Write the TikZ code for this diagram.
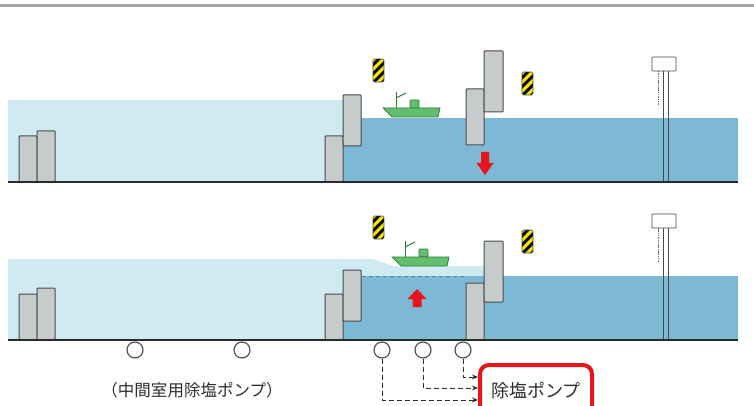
\documentclass[tikz,border=0pt]{standalone}
\usepackage{fontspec}
\newfontfamily\jpfont{Noto Sans CJK JP}
\usetikzlibrary{arrows.meta}
\definecolor{lightwater}{HTML}{CFEAF1}
\definecolor{darkwater}{HTML}{7DB8D4}
\definecolor{wallgrey}{HTML}{C6CBCB}
\definecolor{walledge}{HTML}{4A4A4A}
\definecolor{groundline}{HTML}{2B2B2B}
\definecolor{boatgreen}{HTML}{62BF6E}
\definecolor{boatedge}{HTML}{2E7A3C}
\definecolor{flowred}{HTML}{E8141B}
\definecolor{stripeyellow}{HTML}{F2E600}
\definecolor{levelline}{HTML}{4E7F99}
\definecolor{labeltext}{HTML}{2E2E2E}
\tikzset{
  wall/.style={fill=wallgrey, draw=walledge, line width=1pt, rounded corners=0.8pt},
  ground/.style={draw=groundline, line width=2.4pt},
  redarrow/.style={fill=flowred},
  pump/.style={circle, draw=walledge, fill=white, line width=1.1pt, minimum size=16pt, inner sep=0pt},
  pipe/.style={draw=groundline, line width=1pt, dash pattern=on 5pt off 3pt,
    -{Stealth[length=6pt,width=5pt]}},
  stripepost/.pic={
    \begin{scope}
      \clip[rounded corners=1.5pt] (0,0) rectangle (11,23);
      \fill[black] (0,0) rectangle (11,23);
      \foreach \k in {-1,0,...,4}
        \fill[stripeyellow] (0,{\k*9+8}) -- (11,{\k*9-3}) -- (11,{\k*9+1.5}) -- (0,{\k*9+12.5}) -- cycle;
    \end{scope}
    \draw[walledge, line width=0.6pt, rounded corners=1.5pt] (0,0) rectangle (11,23);
  },
  vessel/.pic={
    \draw[boatedge, line width=1pt] (13,0) -- (13,-16);
    \draw[boatedge, line width=1pt] (13,-10) -- (23,-15);
    \filldraw[fill=boatgreen, draw=boatedge, line width=0.7pt, rounded corners=0.8pt] (27,-8) rectangle (36,0);
    \filldraw[fill=boatgreen, draw=boatedge, line width=0.7pt] (0,0) -- (57,0) -- (55,9) -- (9,9) -- cycle;
  },
  pier/.pic={
    \draw[walledge!80, line width=0.7pt, dash pattern=on 1.5pt off 0.8pt] (6,14) -- (6,48);
    \draw[walledge, line width=0.8pt] (11,14) -- (11,125) (16,14) -- (16,125);
    \filldraw[fill=white, draw=walledge, line width=0.9pt, rounded corners=1pt] (0,0) rectangle (24,14);
  }
}
\begin{document}
\begin{tikzpicture}[x=1pt, y=-1pt]
\useasboundingbox (0,0) rectangle (754,406);
\fill[white] (0,0) rectangle (754,406);

% rule along the top edge
\draw[color=black!35, line width=2.4pt] (0,5.5) -- (754,5.5);

% ===== upper panel: chamber level with the sea side =====
\fill[lightwater] (8,100) rectangle (343,182);
\fill[darkwater] (343,118) rectangle (738,182);

\draw[wall] (19,182) rectangle (37,136);
\draw[wall] (37,182) rectangle (55,131);
\draw[wall] (325,182) rectangle (343,136);
\draw[wall] (343,146) rectangle (361,95);
\draw[wall] (466,145) rectangle (484,89);
\draw[wall] (484,112) rectangle (503,51);

\pic at (652,57) {pier};
\draw[ground] (8,182) -- (738,182);

\pic at (373,59) {stripepost};
\pic at (522,72) {stripepost};
\pic at (383,108) {vessel};

\fill[redarrow] (481,152) -- (489,152) -- (489,163) -- (493.5,163) -- (485,175) -- (476.5,163) -- (481,163) -- cycle;

% ===== lower panel: chamber raised with desalting water =====
\fill[lightwater] (8,259) -- (373,259) -- (393,266) -- (484,266) -- (484,340) -- (8,340) -- cycle;
\fill[darkwater] (343,276) rectangle (484,340);
\fill[darkwater] (484,276) rectangle (738,340);
\draw[levelline, line width=1pt, dash pattern=on 4pt off 3pt] (362,276) -- (466,276);

\draw[wall] (19,340) rectangle (37,294);
\draw[wall] (37,340) rectangle (55,288);
\draw[wall] (325,340) rectangle (343,294);
\draw[wall] (343,321) rectangle (361,270);
\draw[wall] (466,340) rectangle (484,283);
\draw[wall] (484,302) rectangle (503,241);

\pic at (652,214) {pier};
\draw[ground] (8,340) -- (738,340);

\pic at (373,216) {stripepost};
\pic at (522,230) {stripepost};
\pic at (392,257) {vessel};

\fill[redarrow] (412.5,307) -- (421.5,307) -- (421.5,299) -- (426.5,299) -- (417,289) -- (407.5,299) -- (412.5,299) -- cycle;

% pumps under the bed
\node[pump] (m1) at (135,350) {};
\node[pump] (m2) at (242,350) {};
\node[pump] (p1) at (382,350) {};
\node[pump] (p2) at (423,350) {};
\node[pump] (p3) at (463,350) {};

\node[font=\jpfont\fontsize{16.5}{18}\selectfont, text=labeltext] (midlbl) at (192,390) {（中間室用除塩ポンプ）};

\node[draw=flowred, line width=4pt, rounded corners=9pt, minimum width=112pt, minimum height=52pt,
      font=\jpfont\fontsize{18}{20}\selectfont, text=labeltext] (lbl) at (536,391) {除塩ポンプ};

\coordinate (e1) at (478,400);
\coordinate (e2) at (478,388);
\coordinate (e3) at (478,377);
\draw[pipe] (p1.south) |- (e1);
\draw[pipe] (p2.south) |- (e2);
\draw[pipe] (p3.south) |- (e3);
\end{tikzpicture}
\end{document}
